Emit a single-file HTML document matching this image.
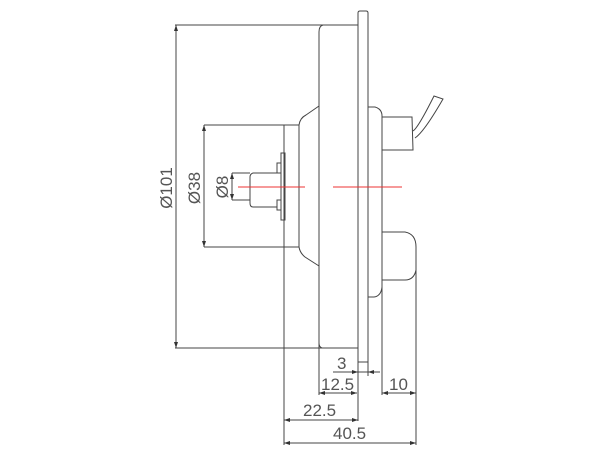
<!DOCTYPE html>
<html><head><meta charset="utf-8"><style>
html,body{margin:0;padding:0;background:#fff;width:600px;height:450px;overflow:hidden}
text{font-family:"Liberation Sans",sans-serif;font-size:17px;fill:#555}
</style></head><body>
<svg width="600" height="450" viewBox="0 0 600 450" xmlns="http://www.w3.org/2000/svg">
<g fill="none" stroke="#444" stroke-width="1">
<path d="M358 362 L358 13 Q358 11 360 11 L366 11 Q368 11 368 13 L368 362 Z"/>
<path d="M175 25 L358 25"/>
<path d="M175 348 L358 348"/>
<path d="M323 25 Q319 26 319 32 L319 343 Q319 347 322 348"/>
<path d="M319 106 L306 115 Q300 118 299 125 L299 247 Q300 253 305 257 L319 266"/>
<path d="M204 125 L299 125 M204 247 L299 247"/>
<path d="M284 125 L284 445"/>
<rect x="281" y="153" width="4" height="67"/>
<rect x="277" y="163" width="4" height="10"/>
<rect x="277" y="200" width="4" height="10"/>
<path d="M277 173 L253 173 Q250 174 250 177 L250 203 Q250 207 253 207 L277 207"/>
<path d="M232 173 L250 173 M232 200 L250 200"/>
<path d="M368 107 L375 107 Q382 109 382 116 L382 395"/>
<path d="M382 287 Q381 296 374 297 L368 297"/>
<path d="M382 117 L412 117 L413 150 L382 150"/>
<path d="M413 131 Q418 128 434 96 L443 99 Q424 132 415 138"/>
<path d="M382 232 L405 232 Q416 234 416 247 L416 445"/>
<path d="M416 270 Q414 280 405 280 L382 280"/>
<path d="M176 25 L176 348"/>
<path d="M204 125 L204 247"/>
<path d="M232 173 L232 200"/>
<path d="M358 362 L358 421"/>
<path d="M368 362 L368 376"/>
<path d="M319 343 L319 395"/>
<path d="M333 372 L380 372"/>
<path d="M319 393 L357 393"/>
<path d="M382 393 L416 393"/>
<path d="M284 420 L358 420"/>
<path d="M284 443 L416 443"/>
</g>
<g fill="#333">
<path d="M176 25 l-2 6 l4 0 z M176 348 l-2 -6 l4 0 z"/>
<path d="M204 125 l-2 6 l4 0 z M204 247 l-2 -6 l4 0 z"/>
<path d="M232 173 l-2 6 l4 0 z M232 200 l-2 -6 l4 0 z"/>
<path d="M358 372 l-6 -2 l0 4 z M368 372 l6 -2 l0 4 z"/>
<path d="M319 393 l6 -2 l0 4 z M357 393 l-6 -2 l0 4 z"/>
<path d="M382 393 l6 -2 l0 4 z M416 393 l-6 -2 l0 4 z"/>
<path d="M284 420 l6 -2 l0 4 z M358 420 l-6 -2 l0 4 z"/>
<path d="M284 443 l6 -2 l0 4 z M416 443 l-6 -2 l0 4 z"/>
</g>
<g stroke="#e33" stroke-width="1">
<path d="M238 187 L305 187 M333 187 L402 187"/>
</g>
<text x="337" y="369">3</text>
<text x="321" y="390">12.5</text>
<text x="389" y="390">10</text>
<text x="303" y="416">22.5</text>
<text x="333" y="439">40.5</text>
<text transform="translate(172,188) rotate(-90)" text-anchor="middle">Ø101</text>
<text transform="translate(200,188) rotate(-90)" text-anchor="middle">Ø38</text>
<text transform="translate(228,187) rotate(-90)" text-anchor="middle">Ø8</text>
</svg>
</body></html>
